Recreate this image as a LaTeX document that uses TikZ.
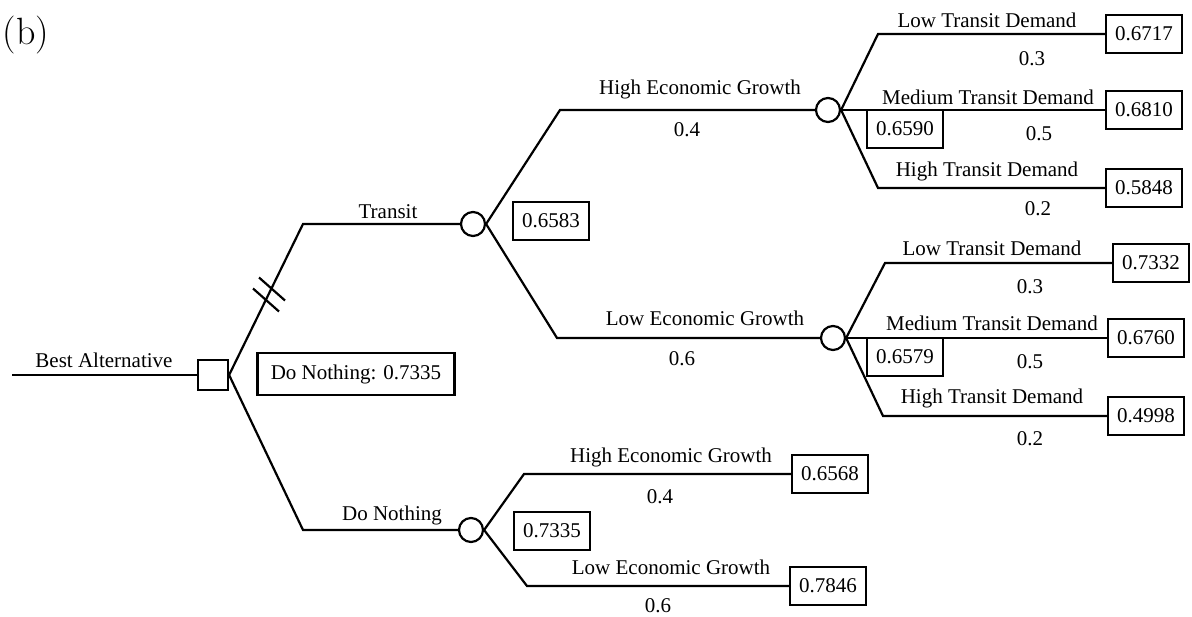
\documentclass[tikz,border=0pt]{standalone}
\usepackage{fontspec}
\newfontfamily\tnr{Liberation Serif}
\begin{document}
\begin{tikzpicture}[x=1pt,y=-1pt,line width=2.2pt,
  lbl/.style={font=\tnr\fontsize{21}{25}\selectfont, inner sep=0pt, anchor=center},
  valbox/.style={draw, font=\tnr\fontsize{21}{25}\selectfont, minimum width=76pt, minimum height=38pt, inner sep=2pt},
  chance/.style={draw, circle, minimum size=24pt, inner sep=0pt},
  decision/.style={draw, rectangle, minimum size=30pt, inner sep=0pt}]
\useasboundingbox (0,0) rectangle (1192,617);

\node[font=\fontsize{38}{42}\selectfont, inner sep=0pt, anchor=west] (panel) at (1.5,35) {(b)};

% root and decision
\coordinate (root) at (12,375);
\node[decision] (dec) at (213,375) {};
\node[lbl] (tBest) at (104,360) {Best Alternative};
\draw (root) -- (dec.west);

\coordinate (kT) at (303,224);
\coordinate (kN) at (303,530);
\node[chance] (cT) at (473,224) {};
\node[chance] (cN) at (471,530) {};
\draw (dec.east) -- (kT) -- (cT.west);
\draw (dec.east) -- (kN) -- (cN.west);
\node[lbl] (tTransit) at (388,212) {Transit};
\node[lbl] (tDoNothing) at (392,515) {Do Nothing};
\node[valbox, minimum width=197pt, minimum height=42pt] (vDN) at (356,374) {Do Nothing: 0.7335};

% hash marks
\coordinate (h1a) at (259,277.5); \coordinate (h1b) at (285,300.5);
\coordinate (h2a) at (253,288.5); \coordinate (h2b) at (279,311.5);
\draw (h1a) -- (h1b);
\draw (h2a) -- (h2b);

% transit chance node
\coordinate (kH) at (560,110);
\coordinate (kL) at (557,338);
\node[chance] (cH) at (828,110) {};
\node[chance] (cL) at (833,338) {};
\draw (cT.east) -- (kH) -- (cH.west);
\draw (cT.east) -- (kL) -- (cL.west);
\node[valbox] (vT) at (551,221) {0.6583};
\node[lbl] (tHEG1) at (700,89) {High Economic Growth};
\node[lbl] (pHEG1) at (687,130) {0.4};
\node[lbl] (tLEG1) at (705,318) {Low Economic Growth};
\node[lbl] (pLEG1) at (682,359) {0.6};

% high growth chance node
\coordinate (kH1) at (878,34);
\coordinate (kH3) at (878,188);
\node[valbox] (a1) at (1144,34) {0.6717};
\node[valbox] (a2) at (1144,110) {0.6810};
\node[valbox] (a3) at (1144,188) {0.5848};
\draw (cH.east) -- (kH1) -- (a1.west);
\draw (cH.east) -- (a2.west);
\draw (cH.east) -- (kH3) -- (a3.west);
\node[valbox] (vH) at (905,129) {0.6590};
\node[lbl] (tA1) at (987,20) {Low Transit Demand};
\node[lbl] (pA1) at (1032,59) {0.3};
\node[lbl] (tA2) at (988,97) {Medium Transit Demand};
\node[lbl] (pA2) at (1039,134) {0.5};
\node[lbl] (tA3) at (987,171) {High Transit Demand};
\node[lbl] (pA3) at (1038,209) {0.2};

% low growth chance node
\coordinate (kL1) at (885,263);
\coordinate (kL3) at (883,416);
\node[valbox] (b1) at (1151,263) {0.7332};
\node[valbox] (b2) at (1146,338) {0.6760};
\node[valbox] (b3) at (1146,416) {0.4998};
\draw (cL.east) -- (kL1) -- (b1.west);
\draw (cL.east) -- (b2.west);
\draw (cL.east) -- (kL3) -- (b3.west);
\node[valbox] (vL) at (905,357) {0.6579};
\node[lbl] (tB1) at (992,248) {Low Transit Demand};
\node[lbl] (pB1) at (1030,287) {0.3};
\node[lbl] (tB2) at (992,323) {Medium Transit Demand};
\node[lbl] (pB2) at (1030,362) {0.5};
\node[lbl] (tB3) at (992,398) {High Transit Demand};
\node[lbl] (pB3) at (1030,439) {0.2};

% do nothing chance node
\coordinate (kN1) at (524,474);
\coordinate (kN2) at (527,586);
\node[valbox] (d1) at (830,474) {0.6568};
\node[valbox] (d2) at (828,586) {0.7846};
\draw (cN.east) -- (kN1) -- (d1.west);
\draw (cN.east) -- (kN2) -- (d2.west);
\node[valbox] (vN) at (552,531) {0.7335};
\node[lbl] (tHEG2) at (671,457) {High Economic Growth};
\node[lbl] (pHEG2) at (660,497) {0.4};
\node[lbl] (tLEG2) at (671,567) {Low Economic Growth};
\node[lbl] (pLEG2) at (658,606) {0.6};
\end{tikzpicture}
\end{document}
